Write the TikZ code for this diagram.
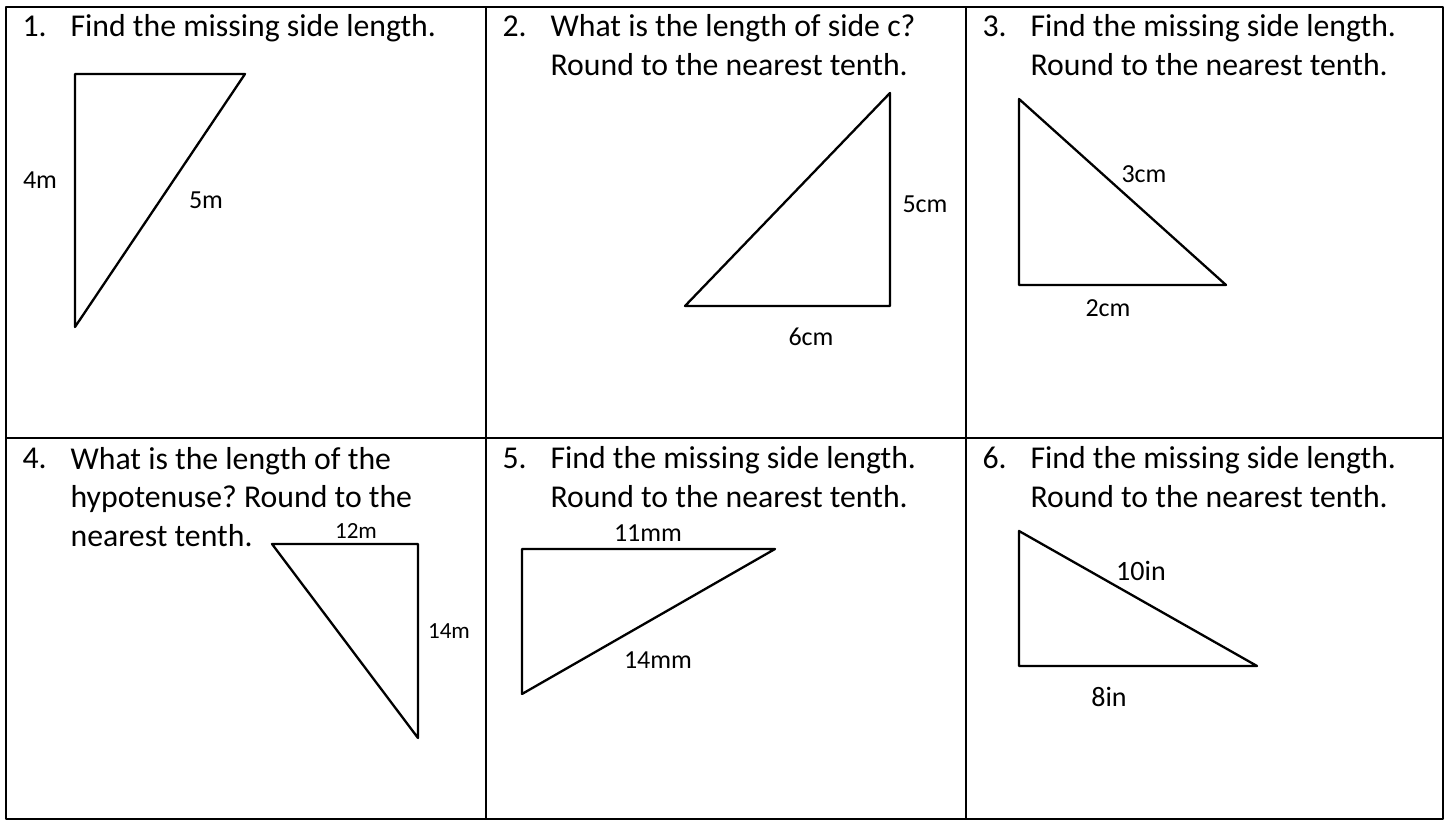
\documentclass[tikz,border=0pt]{standalone}
\usepackage{fontspec}
\setmainfont{Carlito}
\frenchspacing
\newcommand{\pxunit}{0.3462pt}
\tikzset{
  grid line/.style={line width=.75pt,line cap=rect},
  tri edge/.style={line width=.8pt},
  task/.style={font=\fontsize{11}{13.5}\selectfont,align=left,inner sep=0pt,anchor=base west},
  side label/.style={font=\fontsize{9}{10}\selectfont,inner sep=0pt}
}

\begin{document}
\begin{tikzpicture}[x=\pxunit,y=-\pxunit,line cap=round,line join=round]
  \useasboundingbox (0,0) rectangle (1449,821);

  % table
  \draw[grid line] (6,7) rectangle (1443,819);
  \draw[grid line] (486,7) -- (486,819) (966,7) -- (966,819)
        (6,438) -- (1443,438);

  % questions (a node's base is its last line)
  \foreach \n/\x/\y in {1/22/37,2/502/37,3/982/37,4/22/469,5/502/469,6/982/469}
    {\node[task] (num\n) at (\x,\y) {\n.};}
  \node[task] (q1) at (70,37) {Find the missing side length.};
  \node[task] (q2) at (550,76) {What is the length of side c?\\Round to the nearest tenth.};
  \node[task] (q3) at (1030,76) {Find the missing side length.\\Round to the nearest tenth.};
  \node[task] (q4) at (70,547) {What is the length of the\\hypotenuse? Round to the\\nearest tenth.};
  \node[task] (q5) at (550,508) {Find the missing side length.\\Round to the nearest tenth.};
  \node[task] (q6) at (1030,508) {Find the missing side length.\\Round to the nearest tenth.};

  % triangle 1
  \coordinate (a1) at (75,74);
  \coordinate (b1) at (245,74);
  \coordinate (c1) at (75,327);
  \draw[tri edge] (a1) -- (b1) -- (c1) -- cycle;
  \node[side label] (s1a) at (40,180) {4m};
  \node[side label] (s1b) at (206,200) {5m};

  % triangle 2
  \coordinate (a2) at (890,306);
  \coordinate (b2) at (685,306);
  \coordinate (c2) at (890,93);
  \draw[tri edge] (a2) -- (b2) -- (c2) -- cycle;
  \node[side label] (s2a) at (925,204) {5cm};
  \node[side label] (s2b) at (811,337) {6cm};

  % triangle 3
  \coordinate (a3) at (1019,285);
  \coordinate (b3) at (1226,285);
  \coordinate (c3) at (1019,99);
  \draw[tri edge] (a3) -- (b3) -- (c3) -- cycle;
  \node[side label] (s3a) at (1144,174) {3cm};
  \node[side label] (s3b) at (1108,308) {2cm};

  % triangle 4
  \coordinate (a4) at (418,544);
  \coordinate (b4) at (272,544);
  \coordinate (c4) at (418,738);
  \draw[tri edge] (a4) -- (b4) -- (c4) -- cycle;
  \node[side label,font=\fontsize{8}{9}\selectfont] (s4a) at (356,531) {12m};
  \node[side label,font=\fontsize{8}{9}\selectfont] (s4b) at (449,631) {14m};

  % triangle 5
  \coordinate (a5) at (522,549);
  \coordinate (b5) at (775,549);
  \coordinate (c5) at (522,694);
  \draw[tri edge] (a5) -- (b5) -- (c5) -- cycle;
  \node[side label] (s5a) at (648,533) {11mm};
  \node[side label] (s5b) at (658,660) {14mm};

  % triangle 6
  \coordinate (a6) at (1019,666);
  \coordinate (b6) at (1257,666);
  \coordinate (c6) at (1019,531);
  \draw[tri edge] (a6) -- (b6) -- (c6) -- cycle;
  \node[side label,font=\fontsize{9.7}{11}\selectfont] (s6a) at (1141,571) {10in};
  \node[side label,font=\fontsize{9.7}{11}\selectfont] (s6b) at (1109,697) {8in};
\end{tikzpicture}
\end{document}
